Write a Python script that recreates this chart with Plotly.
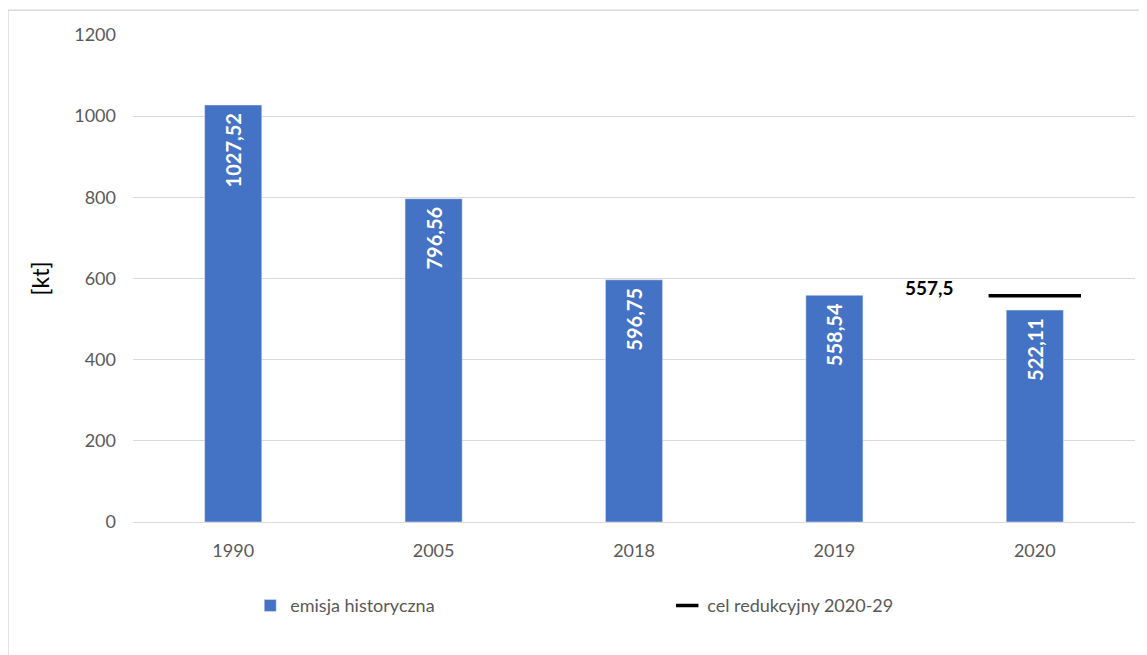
import plotly.graph_objects as go

years = ["1990", "2005", "2018", "2019", "2020"]
emissions = [1027.52, 796.56, 596.75, 558.54, 522.11]
target_year = ["2020"]
target_value = [557.5]
y_ticks = [0, 200, 400, 600, 800, 1000, 1200]

FONT = "Lato"
GRAY = "#595959"

def pl(v):
    return f"{v:.2f}".replace(".", ",")

fig = go.Figure()
fig.add_trace(go.Bar(
    x=years, y=emissions, name="emisja historyczna",
    marker_color="#4472C4", width=0.285,
    text=["<b>" + pl(v) + "</b>\u00a0" for v in emissions], textposition="inside",
    insidetextanchor="end", textangle=-90,
    textfont=dict(color="white", size=20, family=FONT),
))
fig.add_trace(go.Scatter(
    x=target_year, y=target_value, name="cel redukcyjny 2020-29",
    mode="markers",
    marker=dict(symbol="line-ew", size=66, color="black",
                line=dict(color="black", width=3.5)),
))
fig.add_annotation(
    x=years.index(target_year[0]), y=target_value[0],
    text="<b>" + str(target_value[0]).replace(".", ",") + "</b>",
    showarrow=False, xshift=-105, yshift=8,
    font=dict(color="black", size=19, family=FONT),
)
fig.add_shape(type="rect", xref="paper", yref="paper",
              x0=-0.1248, x1=1.2, y0=-0.5, y1=1.051,
              line=dict(color="#d9d9d9", width=1.5), layer="below")

fig.update_layout(
    width=1147, height=655,
    margin=dict(l=125, r=20, t=27, b=141),
    paper_bgcolor="white", plot_bgcolor="white",
    font=dict(family=FONT, size=18, color=GRAY),
    showlegend=True,
    legend=dict(orientation="h", x=0.117, y=-0.172, xanchor="left", yanchor="middle",
                entrywidth=372, entrywidthmode="pixels",
                font=dict(size=18, color=GRAY, family=FONT)),
    xaxis=dict(type="category", categoryorder="array", categoryarray=years,
               range=[-0.5, len(years) - 0.5], autorange=False,
               showgrid=False, showline=True,
               linecolor="#d9d9d9", linewidth=1, ticks="",
               ticklabelstandoff=12,
               tickfont=dict(size=18, color=GRAY)),
    yaxis=dict(range=[0, 1200], autorange=False, tickvals=y_ticks, tickformat="d",
               showgrid=True, gridcolor="#d9d9d9", gridwidth=1,
               zeroline=False, showline=False, ticks="",
               ticklabelstandoff=16,
               title=dict(text="[kt]", font=dict(size=23, color="black", family=FONT), standoff=18),
               tickfont=dict(size=18, color=GRAY)),
)
fig.write_html("out.html")
